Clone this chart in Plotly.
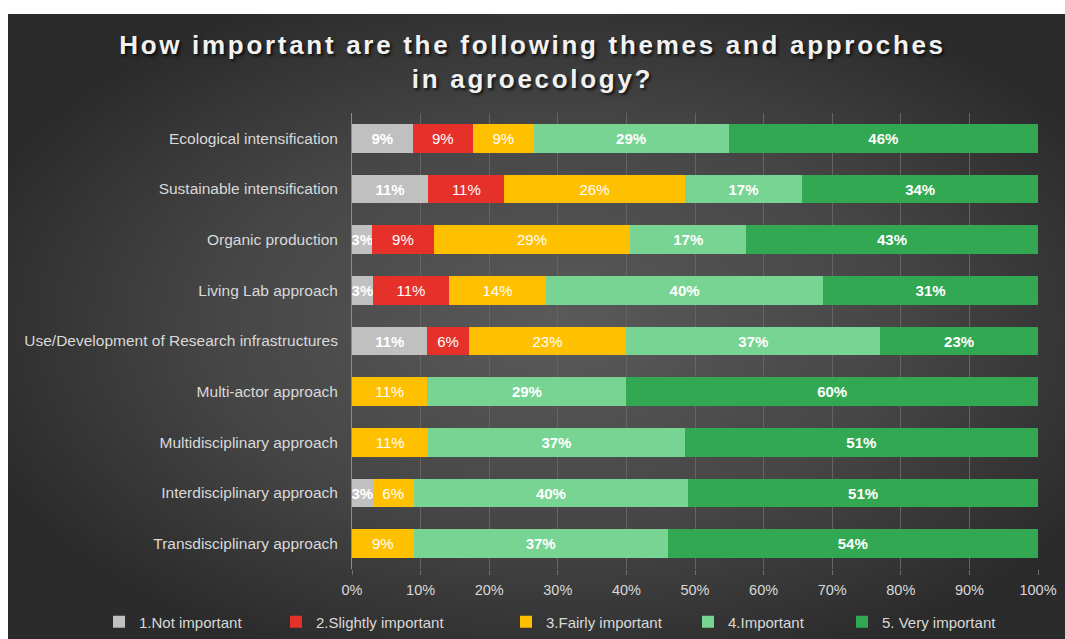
import base64
import plotly.graph_objects as go

# Survey themes (top to bottom) and share of answers per importance level, in %
themes = [
    "Ecological intensification",
    "Sustainable intensification",
    "Organic production",
    "Living Lab approach",
    "Use/Development of Research infrastructures",
    "Multi-actor approach",
    "Multidisciplinary approach",
    "Interdisciplinary approach",
    "Transdisciplinary approach",
]
not_important = [9, 11, 3, 3, 11, 0, 0, 3, 0]
slightly_important = [9, 11, 9, 11, 6, 0, 0, 0, 0]
fairly_important = [9, 26, 29, 14, 23, 11, 11, 6, 9]
important = [29, 17, 17, 40, 37, 29, 37, 40, 37]
very_important = [46, 34, 43, 31, 23, 60, 51, 51, 54]

levels = [
    "1.Not important",
    "2.Slightly important",
    "3.Fairly important",
    "4.Important",
    "5. Very important",
]
x_ticks = list(range(0, 101, 10))

# Styling
W, H = 1065, 639
M_L, M_R, M_T, M_B = 352, 27, 113, 70
PLOT_W = W - M_L - M_R
PLOT_H = H - M_T - M_B
colors = ["#c0c0c0", "#e5312a", "#ffc000", "#78d493", "#33a852"]
label_bold = [True, False, False, True, True]
legend_text_px = [139, 316, 546, 728, 882]  # left edge of each legend label
FONT = "Liberation Sans, Arial, sans-serif"

series = [not_important, slightly_important, fairly_important, important, very_important]

# Dark radial backdrop drawn as an SVG image behind the chart
bg_svg = (
    "<svg xmlns='http://www.w3.org/2000/svg' width='1057' height='625' "
    "viewBox='0 0 1057 625' preserveAspectRatio='none'>"
    "<defs><radialGradient id='g' cx='0.52' cy='0.5' r='0.58'>"
    "<stop offset='0' stop-color='#5a5a5a'/>"
    "<stop offset='0.55' stop-color='#464646'/>"
    "<stop offset='1' stop-color='#2b2b2b'/>"
    "</radialGradient></defs>"
    "<rect width='1057' height='625' fill='url(#g)'/></svg>"
)
bg_uri = "data:image/svg+xml;base64," + base64.b64encode(bg_svg.encode()).decode()

fig = go.Figure()
for i, (name, vals) in enumerate(zip(levels, series)):
    legend_id = "legend" if i == 0 else f"legend{i + 1}"
    fig.add_trace(
        go.Bar(
            name=name,
            y=themes,
            x=vals,
            orientation="h",
            marker=dict(color=colors[i], line=dict(width=0)),
            text=[f"{v}%" if v else "" for v in vals],
            textposition="inside",
            insidetextanchor="middle",
            constraintext="none",
            textangle=0,
            textfont=dict(
                family=FONT,
                size=15,
                color="#ffffff",
                weight="bold" if label_bold[i] else "normal",
            ),
            hovertemplate="%{y}<br>" + name + ": %{text}<extra></extra>",
            legend=legend_id,
        )
    )

legend_layout = {}
for i, px in enumerate(legend_text_px):
    key = "legend" if i == 0 else f"legend{i + 1}"
    legend_layout[key] = dict(
        orientation="h",
        x=(px - 40 - M_L) / PLOT_W,
        xanchor="left",
        y=(PLOT_H + M_T - 622) / PLOT_H,
        yanchor="middle",
        bgcolor="rgba(0,0,0,0)",
        font=dict(family=FONT, size=15, color="#d9d9d9"),
        itemclick=False,
        itemdoubleclick=False,
    )

title_style = "letter-spacing:2.7px"
fig.update_layout(
    width=W,
    height=H,
    margin=dict(l=M_L, r=M_R, t=M_T, b=M_B, autoexpand=False),
    paper_bgcolor="#ffffff",
    plot_bgcolor="rgba(0,0,0,0)",
    barmode="stack",
    barnorm="percent",
    bargap=0.43,
    showlegend=True,
    title=dict(
        text=(
            f"<span style='{title_style}'>How important are the following themes and approches</span>"
            f"<br><span style='{title_style}'>in agroecology?</span>"
        ),
        x=0.5,
        xref="container",
        xanchor="center",
        y=1 - 54 / H,
        yref="container",
        yanchor="middle",
        font=dict(
            family=FONT,
            size=26,
            color="#f2f2f2",
            weight="bold",
            shadow="2px 2px 3px rgba(0,0,0,0.7)",
        ),
    ),
    xaxis=dict(
        range=[0, 100],
        tickvals=x_ticks,
        ticktext=[f"{t}%" for t in x_ticks],
        showgrid=True,
        gridcolor="#646464",
        gridwidth=1,
        zeroline=False,
        showline=False,
        ticks="outside",
        ticklen=5,
        tickcolor="#6e6e6e",
        tickfont=dict(family=FONT, size=14.5, color="#d9d9d9"),
        ticklabelstandoff=3,
        fixedrange=True,
    ),
    yaxis=dict(
        categoryorder="array",
        categoryarray=themes,
        autorange="reversed",
        showgrid=False,
        showline=True,
        linecolor="#8c8c8c",
        linewidth=1,
        ticks="",
        ticklabelstandoff=10,
        tickfont=dict(family=FONT, size=15.5, color="#d9d9d9"),
        fixedrange=True,
    ),
    images=[
        dict(
            source=bg_uri,
            xref="paper",
            yref="paper",
            x=(8 - M_L) / PLOT_W,
            y=1 + (M_T - 14) / PLOT_H,
            sizex=(W - 8) / PLOT_W,
            sizey=(H - 14) / PLOT_H,
            xanchor="left",
            yanchor="top",
            sizing="stretch",
            layer="below",
        )
    ],
    **legend_layout,
)

fig.write_html("out.html")
